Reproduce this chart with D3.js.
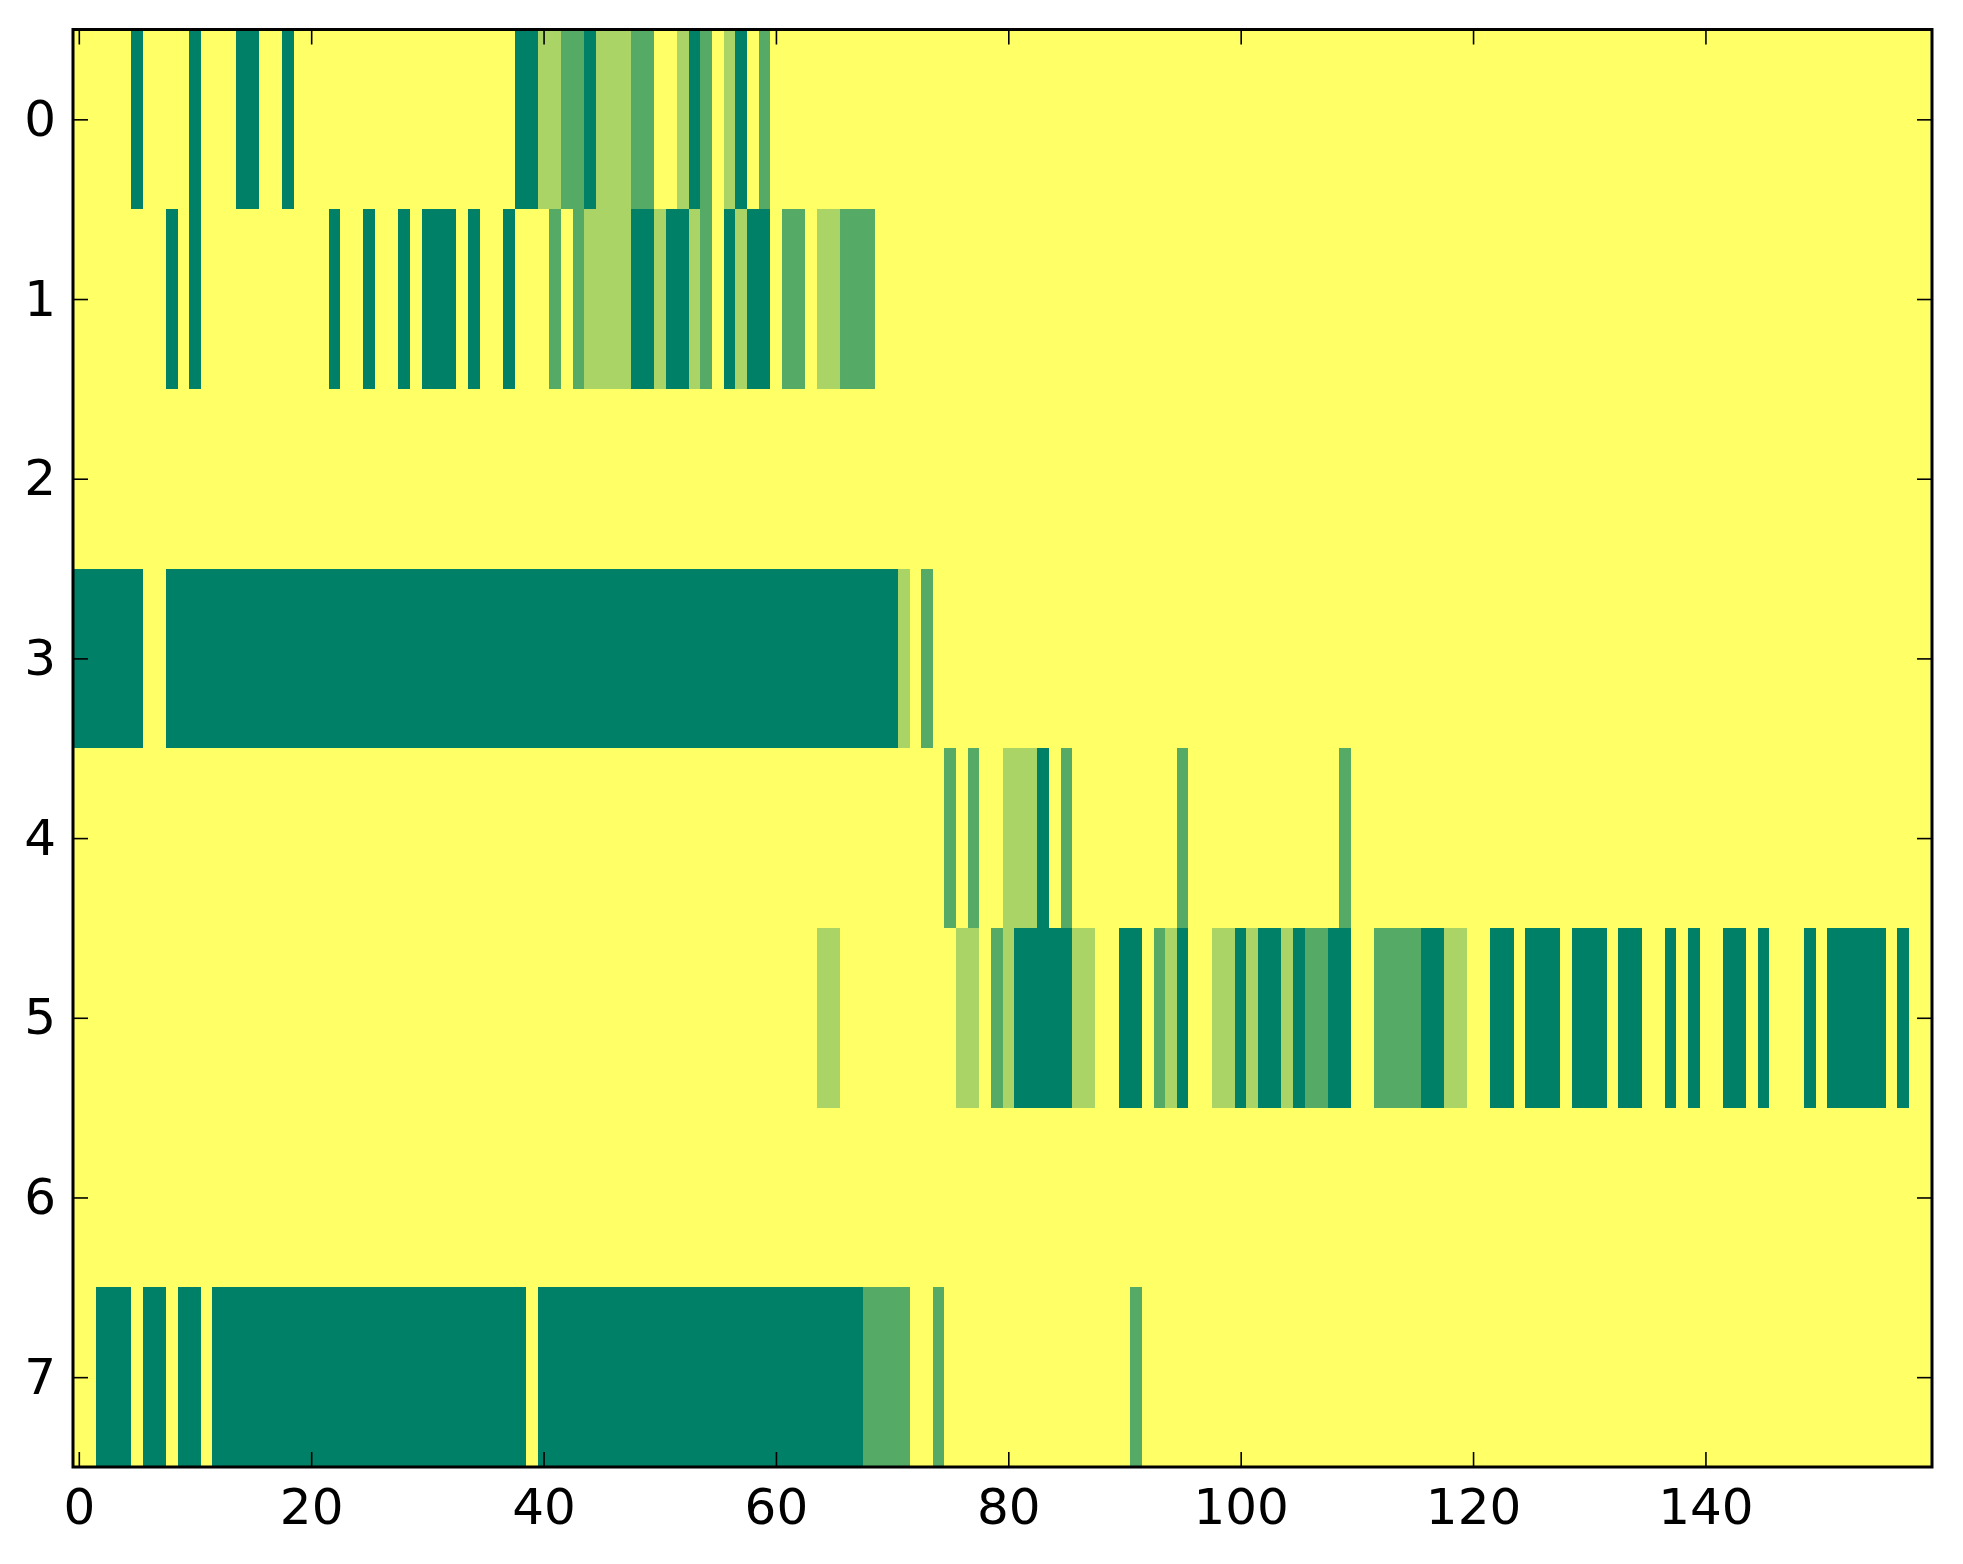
<!DOCTYPE html>
<html>
<head>
<meta charset="utf-8">
<script src="https://cdn.jsdelivr.net/npm/d3@7"></script>
<style>
  body { margin: 0; background: #fff; }
  svg { display: block; }
</style>
</head>
<body>
<div id="chart"></div>
<script>
// one string per matrix row, 160 cells each, written in groups of ten
// 0 = yellow (low) ... 3 = dark green (high)
const row0 = "0000030000 3000330030 0000000000 0000000033 1122311122 0013201302 0000000000 0000000000 0000000000 0000000000 0000000000 0000000000 0000000000 0000000000 0000000000 0000000000"
const row1 = "0000000030 3000000000 0030030030 3330300300 0202111133 1331203133 0220112220 0000000000 0000000000 0000000000 0000000000 0000000000 0000000000 0000000000 0000000000 0000000000"
const row2 = "0000000000 0000000000 0000000000 0000000000 0000000000 0000000000 0000000000 0000000000 0000000000 0000000000 0000000000 0000000000 0000000000 0000000000 0000000000 0000000000"
const row3 = "3333330033 3333333333 3333333333 3333333333 3333333333 3333333333 3333333333 3102000000 0000000000 0000000000 0000000000 0000000000 0000000000 0000000000 0000000000 0000000000"
const row4 = "0000000000 0000000000 0000000000 0000000000 0000000000 0000000000 0000000000 0000020200 1113020000 0000020000 0000000002 0000000000 0000000000 0000000000 0000000000 0000000000"
const row5 = "0000000000 0000000000 0000000000 0000000000 0000000000 0000000000 0000110000 0000001102 1333331100 3302130011 3133132233 0022223311 0033033303 3303300303 0033030003 0333330300"
const row6 = "0000000000 0000000000 0000000000 0000000000 0000000000 0000000000 0000000000 0000000000 0000000000 0000000000 0000000000 0000000000 0000000000 0000000000 0000000000 0000000000"
const row7 = "0033303303 3033333333 3333333333 3333333330 3333333333 3333333333 3333333322 2200200000 0000000000 0200000000 0000000000 0000000000 0000000000 0000000000 0000000000 0000000000"

const rows = [row0, row1, row2, row3, row4, row5, row6, row7]
const xTicks = [0, 20, 40, 60, 80, 100, 120, 140]
const yTicks = [0, 1, 2, 3, 4, 5, 6, 7]

const matrix = rows.map(r => r.replace(/ /g, "").split("").map(Number))
const nCols = matrix[0].length
const cells = []
matrix.forEach((r, i) => r.forEach((v, j) => cells.push({ row: i, col: j, value: v })))

// summer_r-like colormap, value 0..3
const colors = d3.scaleLinear()
    .domain([0, 3])
    .range(["#ffff66", "#008066"])
    .interpolate(d3.interpolateRgb)

const element_width = 1963
const element_height = 1564
const margin = { top: 29.5, right: 31, bottom: 97, left: 73 }
const width = element_width - margin.left - margin.right
const height = element_height - margin.top - margin.bottom

const svg = d3.select("#chart")
    .append("svg")
    .attr("width", element_width)
    .attr("height", element_height)
    .append("g")
    .attr("transform", `translate(${margin.left},${margin.top})`)

const x = d3.scaleLinear().domain([-0.5, nCols - 0.5]).range([0, width])
const y = d3.scaleLinear().domain([-0.5, rows.length - 0.5]).range([0, height])

svg.selectAll(".cell")
    .data(cells)
    .join("rect")
    .attr("class", "cell")
    .attr("x", d => x(d.col - 0.5))
    .attr("y", d => y(d.row - 0.5))
    .attr("width", x(1) - x(0) + 0.3)
    .attr("height", y(1) - y(0) + 0.3)
    .attr("fill", d => colors(d.value))
    .attr("shape-rendering", "crispEdges")

const font = "DejaVu Sans, sans-serif"
const tickLen = 15

function styleAxis(g) {
    g.select(".domain").remove()
    g.selectAll(".tick line").attr("stroke", "#000").attr("stroke-width", 1.6)
    g.selectAll(".tick text").attr("fill", "#000").attr("font-family", font).attr("font-size", 50)
}

svg.append("g")
    .attr("transform", `translate(0,${height})`)
    .call(d3.axisBottom(x).tickValues(xTicks).tickSize(-tickLen).tickPadding(21))
    .call(styleAxis)

svg.append("g")
    .call(d3.axisTop(x).tickValues(xTicks).tickSize(-tickLen).tickFormat(""))
    .call(styleAxis)

svg.append("g")
    .call(d3.axisLeft(y).tickValues(yTicks).tickSize(-tickLen).tickPadding(17))
    .call(styleAxis)

svg.append("g")
    .attr("transform", `translate(${width},0)`)
    .call(d3.axisRight(y).tickValues(yTicks).tickSize(-tickLen).tickFormat(""))
    .call(styleAxis)

// frame
svg.append("rect")
    .attr("x", 0)
    .attr("y", 0)
    .attr("width", width)
    .attr("height", height)
    .attr("fill", "none")
    .attr("stroke", "#000")
    .attr("stroke-width", 3)
</script>
</body>
</html>
